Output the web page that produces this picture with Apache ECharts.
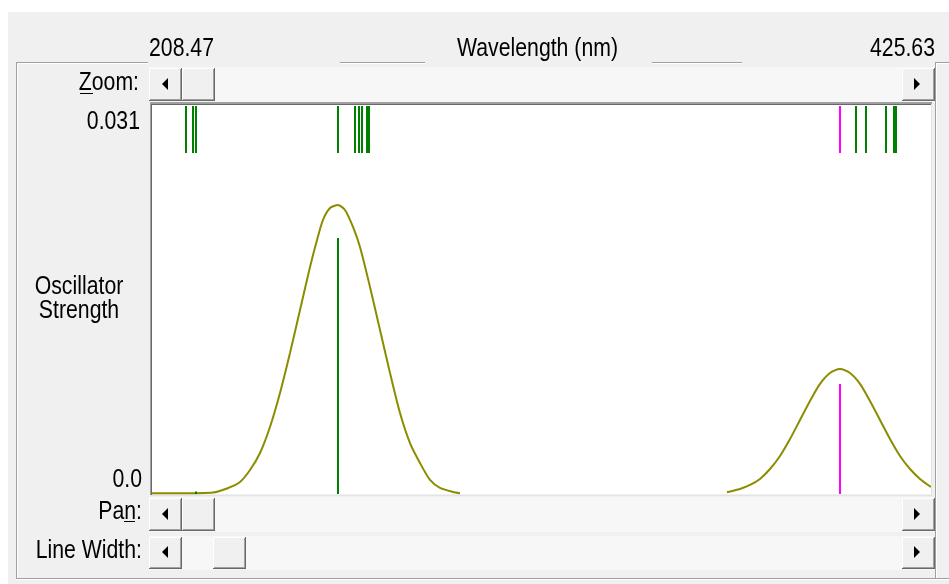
<!DOCTYPE html>
<html>
<head>
<meta charset="utf-8">
<script src="https://cdn.jsdelivr.net/npm/echarts@6/dist/echarts.min.js"></script>
<style>
  html, body { margin: 0; padding: 0; background: #fff; }
  #chart { width: 949px; height: 584px; }
</style>
</head>
<body>
<div id="chart"></div>
<script>
// axis extents and tick labels
const wavelengthRange = [208.47, 425.63];
const strengthRange = [0, 0.031];
const xTickLabels = ["208.47", "425.63"];
const yTickLabels = ["0.0", "0.031"];
const xAxisTitle = "Wavelength (nm)";
const yAxisTitle = ["Oscillator", "Strength"];

// excited states: wavelength (nm) and oscillator strength
const transitionWavelength = [217.95, 219.90, 220.74, 260.32, 265.06, 266.17, 267.01, 268.40, 268.96,
    400.26, 404.72, 407.51, 413.09, 415.32, 415.88];
const transitionStrength = [0, 0, 0.0002, 0.0204, 0, 0, 0, 0, 0,
    0.00877, 0, 0, 0, 0, 0];
const selectedIndex = 9;

// broadened spectrum (null = not visible)
const curveWavelength = [208.47, 216.28, 225.47, 229.38, 233.00, 235.79, 238.58, 241.36, 244.15, 246.94,
    249.73, 252.52, 254.47, 256.14, 258.09, 260.32, 262.27, 264.50, 266.45, 269.24,
    272.03, 274.82, 277.61, 280.39, 283.18, 285.97, 288.76, 292.38, 294.33, 330.00,
    368.76, 372.38, 375.17, 377.96, 380.75, 383.54, 386.32, 389.11, 391.90, 394.69,
    397.47, 400.26, 403.05, 405.84, 408.62, 411.41, 414.20, 416.99, 419.78, 422.56, 425.63];
const curveStrength = [0.00006, 0.00006, 0.00012, 0.00044, 0.00096, 0.00191, 0.00327, 0.00534, 0.00805, 0.01124,
    0.01466, 0.01809, 0.02024, 0.02184, 0.02279, 0.02303, 0.02263, 0.02128, 0.01968, 0.01650,
    0.01307, 0.00964, 0.00645, 0.00406, 0.00247, 0.00112, 0.00048, 0.00016, 0.00006, null,
    0.00014, 0.00040, 0.00072, 0.00120, 0.00199, 0.00303, 0.00438, 0.00590, 0.00741, 0.00877,
    0.00964, 0.00996, 0.00964, 0.00877, 0.00741, 0.00590, 0.00438, 0.00303, 0.00199, 0.00120, 0.00056];

const FONT = '25px "Liberation Sans", Arial, sans-serif';
const NARROW = 0.85;
const GREEN = "#008000";
const MAGENTA = "#ff00ff";
const OLIVE = "#8c8c00";

const chart = echarts.init(document.getElementById("chart"), null, { renderer: "canvas" });

function stickColor(i) {
    return i === selectedIndex ? MAGENTA : GREEN;
}

chart.setOption({
    animation: false,
    backgroundColor: "#fff",
    grid: {
        left: 152,
        right: 18,
        top: 105,
        bottom: 90,
        show: true,
        backgroundColor: "#fff",
        borderWidth: 0
    },
    xAxis: {
        type: "value",
        min: wavelengthRange[0],
        max: wavelengthRange[1],
        axisLine: { show: false },
        axisTick: { show: false },
        axisLabel: { show: false },
        splitLine: { show: false }
    },
    yAxis: {
        type: "value",
        min: strengthRange[0],
        max: strengthRange[1],
        axisLine: { show: false },
        axisTick: { show: false },
        axisLabel: { show: false },
        splitLine: { show: false }
    },
    series: [
        {
            type: "line",
            data: curveWavelength.map((w, i) => [w, curveStrength[i] === null ? "-" : curveStrength[i]]),
            showSymbol: false,
            smooth: 0.25,
            connectNulls: false,
            lineStyle: { color: OLIVE, width: 2 },
            z: 3
        },
        {
            // sticks from the baseline
            type: "custom",
            data: transitionWavelength
                .map((w, i) => [w, transitionStrength[i], i])
                .filter(d => d[1] > 0),
            renderItem: function (params, api) {
                const base = api.coord([api.value(0), 0]);
                const tip = api.coord([api.value(0), api.value(1)]);
                const x = Math.round(base[0]);
                return {
                    type: "line",
                    shape: { x1: x, y1: base[1], x2: x, y2: tip[1] },
                    style: { stroke: stickColor(api.value(2)), lineWidth: 2 }
                };
            },
            z: 4
        },
        {
            // short markers along the top for every state
            type: "custom",
            data: transitionWavelength.map((w, i) => [w, strengthRange[1], i]),
            renderItem: function (params, api) {
                const top = api.coord([api.value(0), api.value(1)]);
                const x = Math.round(top[0]);
                return {
                    type: "line",
                    shape: { x1: x, y1: top[1] + 1, x2: x, y2: top[1] + 48 },
                    style: { stroke: stickColor(api.value(2)), lineWidth: 2 }
                };
            },
            z: 4
        }
    ]
});

// ---- window chrome and labels ----
const px = v => chart.convertToPixel({ gridIndex: 0 }, [v, strengthRange[0]])[0];
const py = v => chart.convertToPixel({ gridIndex: 0 }, [wavelengthRange[0], v])[1];

const els = [];

function box(x, y, w, h, fill, z) {
    els.push({ type: "rect", silent: true, z: z ?? 10, shape: { x, y, width: w, height: h }, style: { fill } });
}

function label(text, x, y, align) {
    els.push({
        type: "text", silent: true, z: 12, x, y, scaleX: NARROW,
        style: { text, font: FONT, fill: "#000", textAlign: align, textVerticalAlign: "middle" }
    });
}

function button(x, y, w, h) {
    box(x, y, w, h, "#f0f0f0");
    box(x, y, w - 1, 1, "#fff");
    box(x, y, 1, h - 1, "#fff");
    box(x, y + h - 1, w, 1, "#696969");
    box(x + w - 1, y, 1, h, "#696969");
    box(x + 1, y + h - 2, w - 2, 1, "#a0a0a0");
    box(x + w - 2, y + 1, 1, h - 2, "#a0a0a0");
}

function arrow(cx, cy, dir) {
    const pts = dir < 0
        ? [[cx - 3, cy], [cx + 3, cy - 6], [cx + 3, cy + 6]]
        : [[cx + 3, cy], [cx - 3, cy - 6], [cx - 3, cy + 6]];
    els.push({ type: "polygon", silent: true, z: 11, shape: { points: pts }, style: { fill: "#000" } });
}

function scrollbar(y, h, thumbX) {
    box(149, y - 1, 786, h + 2, "#f7f7f7");
    button(149, y, 33, h);
    arrow(165, y + Math.round(h / 2) - 1, -1);
    button(thumbX, y, 33, h);
    button(902, y, 33, h);
    arrow(917, y + Math.round(h / 2) - 1, 1);
}

// panel background
box(8, 12, 941, 572, "#f0f0f0", -1);

// etched group frame
[[16, 148], [340, 425], [652, 742], [935, 949]].forEach(([a, b]) => {
    box(a, 62, b - a, 1, "#a0a0a0");
    box(a + 1, 63, b - a - 1, 1, "#fff");
});
box(16, 62, 1, 517, "#a0a0a0");
box(17, 63, 1, 515, "#fff");
box(16, 578, 933, 1, "#a0a0a0");
box(16, 579, 933, 1, "#fff");
box(935, 62, 1, 516, "#a0a0a0");
box(936, 63, 1, 515, "#fff");

// sunken frame round the plot
const gx0 = Math.round(px(wavelengthRange[0]));
const gx1 = Math.round(px(wavelengthRange[1]));
const gy0 = Math.round(py(strengthRange[1]));
const gy1 = Math.round(py(strengthRange[0]));
box(gx0 - 2, gy0 - 3, gx1 - gx0 + 3, 2, "#a0a0a0");
box(gx0 - 1, gy0 - 1, gx1 - gx0 + 1, 1, "#696969");
box(gx0 - 2, gy0 - 3, 2, gy1 - gy0 + 4, "#a0a0a0");
box(gx0 - 1, gy0 - 1, 1, gy1 - gy0 + 2, "#696969");
box(gx1, gy0 - 1, 1, gy1 - gy0 + 2, "#e3e3e3");
box(gx0 - 1, gy1 + 1, gx1 - gx0 + 2, 1, "#e3e3e3");

// scrollbars
scrollbar(68, 33, 182);
scrollbar(498, 33, 182);
scrollbar(537, 32, 213);

// text
label(xTickLabels[0], px(wavelengthRange[0]) - 3, 49, "left");
label(xTickLabels[1], px(wavelengthRange[1]) + 4, 49, "right");
label(xAxisTitle, (px(wavelengthRange[0]) + px(wavelengthRange[1])) / 2 - 4, 49, "center");
label(yTickLabels[1], 140, py(strengthRange[1]) + 17, "right");
label(yTickLabels[0], 142, py(strengthRange[0]) - 14, "right");
label(yAxisTitle[0], 79, 287, "center");
label(yAxisTitle[1], 79, 311, "center");
label("Zoom:", 139, 83, "right");
box(80, 93, 13, 1, "#000", 12);
label("Pan:", 142, 512, "right");
box(124, 521, 11, 1, "#000", 12);
label("Line Width:", 142, 551, "right");

chart.setOption({ graphic: { elements: els } });
</script>
</body>
</html>
